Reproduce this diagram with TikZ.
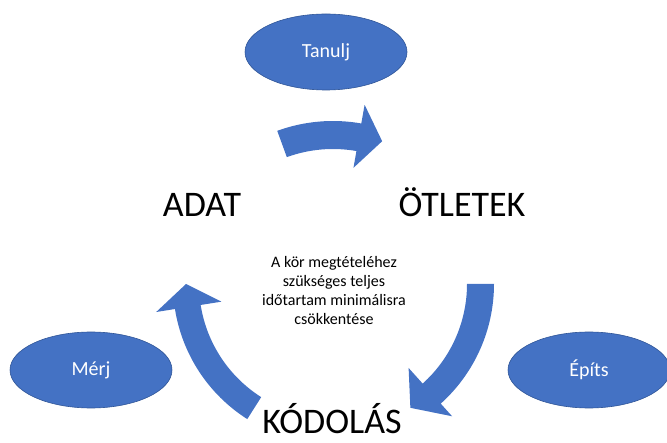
\documentclass[tikz,border=0pt]{standalone}
\usepackage{fontspec}
\setmainfont{Carlito}
\usepackage{tikz}
\usetikzlibrary{positioning, shapes.geometric}
\definecolor{officeblue}{HTML}{4472C4}
\definecolor{officeedge}{HTML}{2F5597}
\tikzset{blob/.style={ellipse, fill=officeblue, draw=officeedge, line width=0.6pt,
    minimum width=162pt, minimum height=76pt, inner sep=0pt, text=white,
    font=\fontsize{20}{24}\selectfont},
  stage/.style={anchor=base, inner sep=0pt, font=\fontsize{36}{43}\selectfont},
  cyclearrow/.style={fill=officeblue}}

\begin{document}
\begin{tikzpicture}[x=1pt, y=1pt]
    \useasboundingbox (0,0) rectangle (667,442);
    \coordinate (c) at (333,158);

    \node[blob] (tanulj) at (326,390) {Tanulj};
    \node[blob] (merj) at (91,72) {Mérj};
    \node[blob] (epits) at (589,72) {Építs};

    \node[stage] (adat) at (202,225) {ADAT};
    \node[stage] (otletek) at (462,225) {ÖTLETEK};
    \node[stage] (kodolas) at (332,9) {KÓDOLÁS};

    \node[align=center, inner sep=0pt, font=\fontsize{16}{19}\selectfont] (goal) at (334,151)
      {A kör megtételéhez\\szükséges teljes\\időtartam minimálisra\\csökkentése};

    % adat -> otletek
    \fill[cyclearrow] ([shift={(110:163pt)}]c) arc[start angle=110, end angle=80, radius=163pt]
      -- ([shift={(80:182pt)}]c) -- ([shift={(71:151pt)}]c) -- ([shift={(80:118pt)}]c)
      -- ([shift={(80:135pt)}]c) arc[start angle=80, end angle=110, radius=135pt] -- cycle;
    % otletek -> kodolas
    \fill[cyclearrow] ([shift={(0:161pt)}]c) arc[start angle=0, end angle=-48, radius=161pt]
      -- ([shift={(-48:178pt)}]c) -- ([shift={(-58:146pt)}]c) -- ([shift={(-48:113pt)}]c)
      -- ([shift={(-48:134pt)}]c) arc[start angle=-48, end angle=0, radius=134pt] -- cycle;
    % kodolas -> adat
    \fill[cyclearrow] ([shift={(237.6:160pt)}]c) arc[start angle=237.6, end angle=189, radius=160pt]
      -- ([shift={(189:179pt)}]c) -- ([shift={(180:147pt)}]c) -- ([shift={(189:113pt)}]c)
      -- ([shift={(189:134pt)}]c) arc[start angle=189, end angle=237.6, radius=134pt] -- cycle;
\end{tikzpicture}
\end{document}
